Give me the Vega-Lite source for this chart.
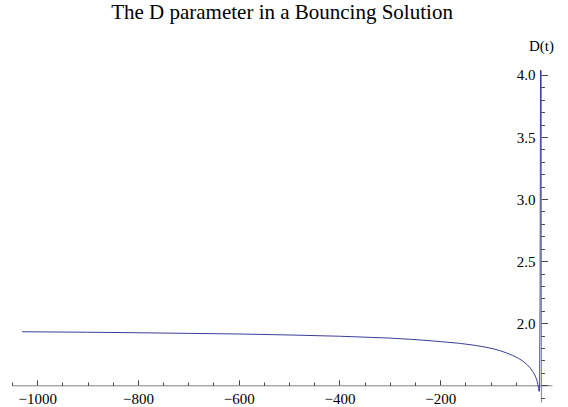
{
  "$schema": "https://vega.github.io/schema/vega-lite/v6.json",
  "width": 540,
  "height": 332,
  "autosize": {"type": "none"},
  "padding": {"left": 12, "top": 70, "right": 16, "bottom": 5},
  "background": "white",
  "title": {
    "text": "The D parameter in a Bouncing Solution",
    "font": "Liberation Serif",
    "fontSize": 21,
    "fontWeight": "normal",
    "color": "black",
    "anchor": "middle",
    "offset": 15
  },
  "data": {
    "values": [
      {"t": -1030, "D": 1.931},
      {"t": -900, "D": 1.927},
      {"t": -800, "D": 1.923},
      {"t": -700, "D": 1.918},
      {"t": -600, "D": 1.913},
      {"t": -500, "D": 1.905},
      {"t": -400, "D": 1.895},
      {"t": -300, "D": 1.88},
      {"t": -250, "D": 1.868},
      {"t": -200, "D": 1.852},
      {"t": -160, "D": 1.837},
      {"t": -130, "D": 1.821},
      {"t": -110, "D": 1.807},
      {"t": -95, "D": 1.794},
      {"t": -80, "D": 1.777},
      {"t": -68, "D": 1.76},
      {"t": -56, "D": 1.74},
      {"t": -45, "D": 1.718},
      {"t": -36, "D": 1.695},
      {"t": -28, "D": 1.668},
      {"t": -21, "D": 1.638},
      {"t": -15, "D": 1.603},
      {"t": -11, "D": 1.573},
      {"t": -8, "D": 1.54},
      {"t": -6, "D": 1.505},
      {"t": -4.8, "D": 1.475},
      {"t": -4, "D": 1.455},
      {"t": -3.3, "D": 1.45},
      {"t": -2.6, "D": 1.47},
      {"t": -1.6, "D": 2.2},
      {"t": -0.6, "D": 4.6}
    ]
  },
  "layer": [
    {
      "mark": {"type": "line", "color": "#3d3d99", "strokeWidth": 1, "clip": true},
      "encoding": {
        "x": {
          "field": "t",
          "type": "quantitative",
          "scale": {"domain": [-1050, 22], "nice": false, "zero": false},
          "axis": {
            "orient": "bottom",
            "offset": -16.7,
            "values": [-1000, -800, -600, -400, -200],
            "format": "d",
            "tickSize": -5.5,
            "labelPadding": 12,
            "domainColor": "#808080",
            "tickColor": "#444444",
            "labelFont": "Liberation Serif",
            "labelFontSize": 15,
            "labelColor": "black",
            "labelFlush": false,
            "grid": false,
            "title": null
          }
        },
        "y": {
          "field": "D",
          "type": "quantitative",
          "scale": {"domain": [1.365, 4.04], "nice": false, "zero": false},
          "axis": {
            "orient": "left",
            "offset": -528.9,
            "values": [1.5, 2, 2.5, 3, 3.5, 4],
            "labelExpr": "datum.value < 1.9 ? '' : format(datum.value, '.1f')",
            "tickSize": -6.5,
            "labelPadding": 12.5,
            "domainColor": "#808080",
            "tickColor": "#444444",
            "labelFont": "Liberation Serif",
            "labelFontSize": 15,
            "labelColor": "black",
            "labelFlush": false,
            "grid": false,
            "title": "D(t)",
            "titleAngle": 0,
            "titleX": 0,
            "titleY": -20,
            "titleAlign": "center",
            "titleBaseline": "alphabetic",
            "titleFont": "Liberation Serif",
            "titleFontSize": 15,
            "titleFontWeight": "normal",
            "titleColor": "black"
          }
        }
      }
    },
    {
      "mark": {"type": "line", "opacity": 0, "clip": true},
      "encoding": {
        "x": {
          "field": "t",
          "type": "quantitative",
          "scale": {"domain": [-1050, 22], "nice": false, "zero": false},
          "axis": {
            "orient": "bottom",
            "offset": -16.7,
            "values": [-1050, -950, -900, -850, -750, -700, -650, -550, -500, -450, -350, -300, -250, -150, -100, -50],
            "labels": false,
            "domain": false,
            "tickSize": -3.3,
            "tickColor": "#444444",
            "grid": false,
            "title": null
          }
        },
        "y": {
          "field": "D",
          "type": "quantitative",
          "scale": {"domain": [1.365, 4.04], "nice": false, "zero": false},
          "axis": {
            "orient": "left",
            "offset": -528.9,
            "values": [1.4, 1.6, 1.7, 1.8, 1.9, 2.1, 2.2, 2.3, 2.4, 2.6, 2.7, 2.8, 2.9, 3.1, 3.2, 3.3, 3.4, 3.6, 3.7, 3.8, 3.9],
            "labels": false,
            "domain": false,
            "tickSize": -3.5,
            "tickColor": "#444444",
            "grid": false,
            "title": null
          }
        }
      }
    }
  ],
  "resolve": {"axis": {"x": "independent", "y": "independent"}},
  "config": {"view": {"stroke": null}}
}
